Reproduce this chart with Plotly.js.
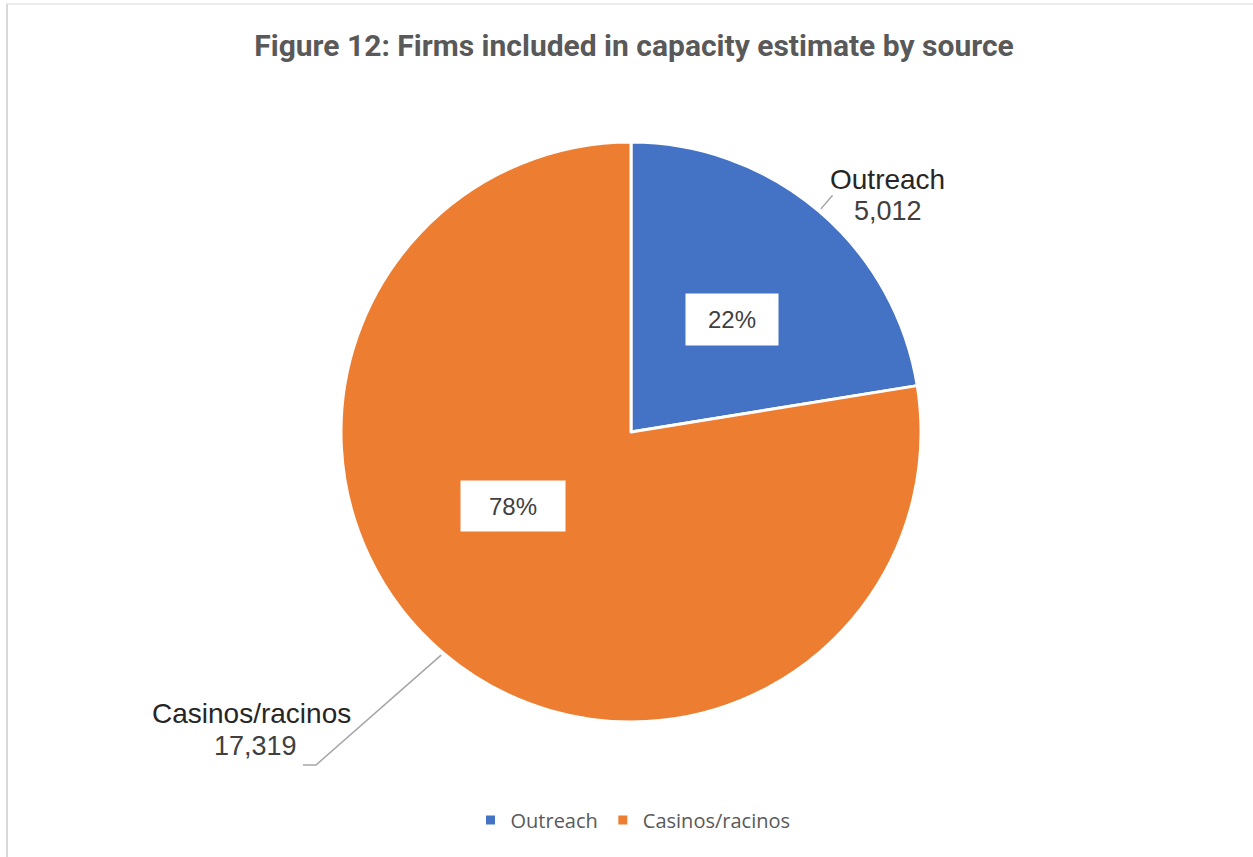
<!DOCTYPE html>
<html>
<head>
<meta charset="utf-8">
<script src="https://cdn.plot.ly/plotly-3.0.1.min.js"></script>
<style>html,body{margin:0;padding:0;background:#fff;}#chart{width:1253px;height:857px;}</style>
</head>
<body>
<div id="chart"></div>
<script>
// ---- data ----
const categories = ["Outreach", "Casinos/racinos"];
const values = [5012, 17319];
const valueLabels = ["5,012", "17,319"];
const colors = ["#4472C4", "#ED7D31"];

// ---- layout geometry (pixels) ----
const W = 1253, H = 857;
const cx = 631, cy = 432, R = 290;
const px = (x) => x / W;
const py = (y) => 1 - y / H;

const total = values.reduce((a, b) => a + b, 0);
const mids = [];
let cum = 0;
values.forEach(v => { mids.push(360 * (cum + v / 2) / total); cum += v; });
const pt = (deg, r) => {
  const t = deg * Math.PI / 180;
  return [cx + r * Math.sin(t), cy - r * Math.cos(t)];
};

// inside percent label placement (angle shift, radius fraction)
const inShift = [1.4, 17.6];
const inRad = [0.52, 0.48];
const boxW = [92, 104], boxH = [51, 50];

const annotations = [];
const shapes = [];
values.forEach((v, i) => {
  const p = pt(mids[i] + inShift[i], inRad[i] * R);
  annotations.push({
    xref: 'paper', yref: 'paper', x: px(p[0]), y: py(p[1]),
    xanchor: 'center', yanchor: 'middle', showarrow: false,
    text: Math.round(100 * v / total) + '%',
    font: {family: 'Liberation Sans, Arial, sans-serif', size: 24, color: '#404040'},
    bgcolor: '#ffffff', width: boxW[i], height: boxH[i], borderpad: 0
  });
});

// leader lines and outside labels
const s0 = pt(mids[0], R + 3);
const e0 = pt(mids[0], R + 21);
shapes.push({type: 'path', xref: 'paper', yref: 'paper',
  path: `M ${px(s0[0])} ${py(s0[1])} L ${px(e0[0])} ${py(e0[1])}`,
  line: {color: '#a6a6a6', width: 1.5}});
const s1 = pt(mids[1], R + 3);
const e1 = [316, 765];
shapes.push({type: 'path', xref: 'paper', yref: 'paper',
  path: `M ${px(s1[0])} ${py(s1[1])} L ${px(e1[0])} ${py(e1[1])} L ${px(e1[0] - 13)} ${py(e1[1])}`,
  line: {color: '#a6a6a6', width: 1.5}});

const outName = [[887, 180], [251, 713]];
const outVal = [[888, 211], [255, 746]];
categories.forEach((c, i) => {
  annotations.push({xref: 'paper', yref: 'paper', x: px(outName[i][0]), y: py(outName[i][1]),
    xanchor: 'center', yanchor: 'middle', showarrow: false, text: c,
    font: {family: 'Liberation Sans, Arial, sans-serif', size: 28, color: '#262626'}});
  annotations.push({xref: 'paper', yref: 'paper', x: px(outVal[i][0]), y: py(outVal[i][1]),
    xanchor: 'center', yanchor: 'middle', showarrow: false, text: valueLabels[i],
    font: {family: 'Liberation Sans, Arial, sans-serif', size: 27, color: '#404040'}});
});

// chart frame
shapes.push({type: 'line', xref: 'paper', yref: 'paper', x0: px(6), x1: 1, y0: py(4), y1: py(4),
  line: {color: '#d9d9d9', width: 1}});
shapes.push({type: 'line', xref: 'paper', yref: 'paper', x0: px(7), x1: px(7), y0: py(4), y1: 0,
  line: {color: '#d9d9d9', width: 2}});

const trace = {
  type: 'pie',
  labels: categories,
  values: values,
  sort: false,
  direction: 'clockwise',
  rotation: 0,
  textinfo: 'none',
  hoverinfo: 'label+value+percent',
  marker: {colors: colors, line: {color: '#ffffff', width: 3}},
  domain: {x: [px(cx - R), px(cx + R)], y: [py(cy + R), py(cy - R)]}
};

const layout = {
  width: W, height: H,
  margin: {l: 0, r: 0, t: 0, b: 0},
  paper_bgcolor: '#ffffff',
  title: {
    text: '<b>Figure 12: Firms included in capacity estimate by source</b>',
    font: {family: 'Roboto, Liberation Sans, sans-serif', size: 30, color: '#595959'},
    x: px(634), xanchor: 'center', xref: 'paper',
    y: py(45), yanchor: 'middle', yref: 'container'
  },
  showlegend: true,
  legend: {
    orientation: 'h', x: px(633), xanchor: 'center', y: py(820), yanchor: 'middle',
    font: {family: 'Open Sans, Noto Sans, sans-serif', size: 20, color: '#595959'},
    itemwidth: 30, traceorder: 'normal'
  },
  annotations: annotations,
  shapes: shapes
};

Plotly.newPlot('chart', [trace], layout, {displayModeBar: false, staticPlot: true});
</script>
</body>
</html>
